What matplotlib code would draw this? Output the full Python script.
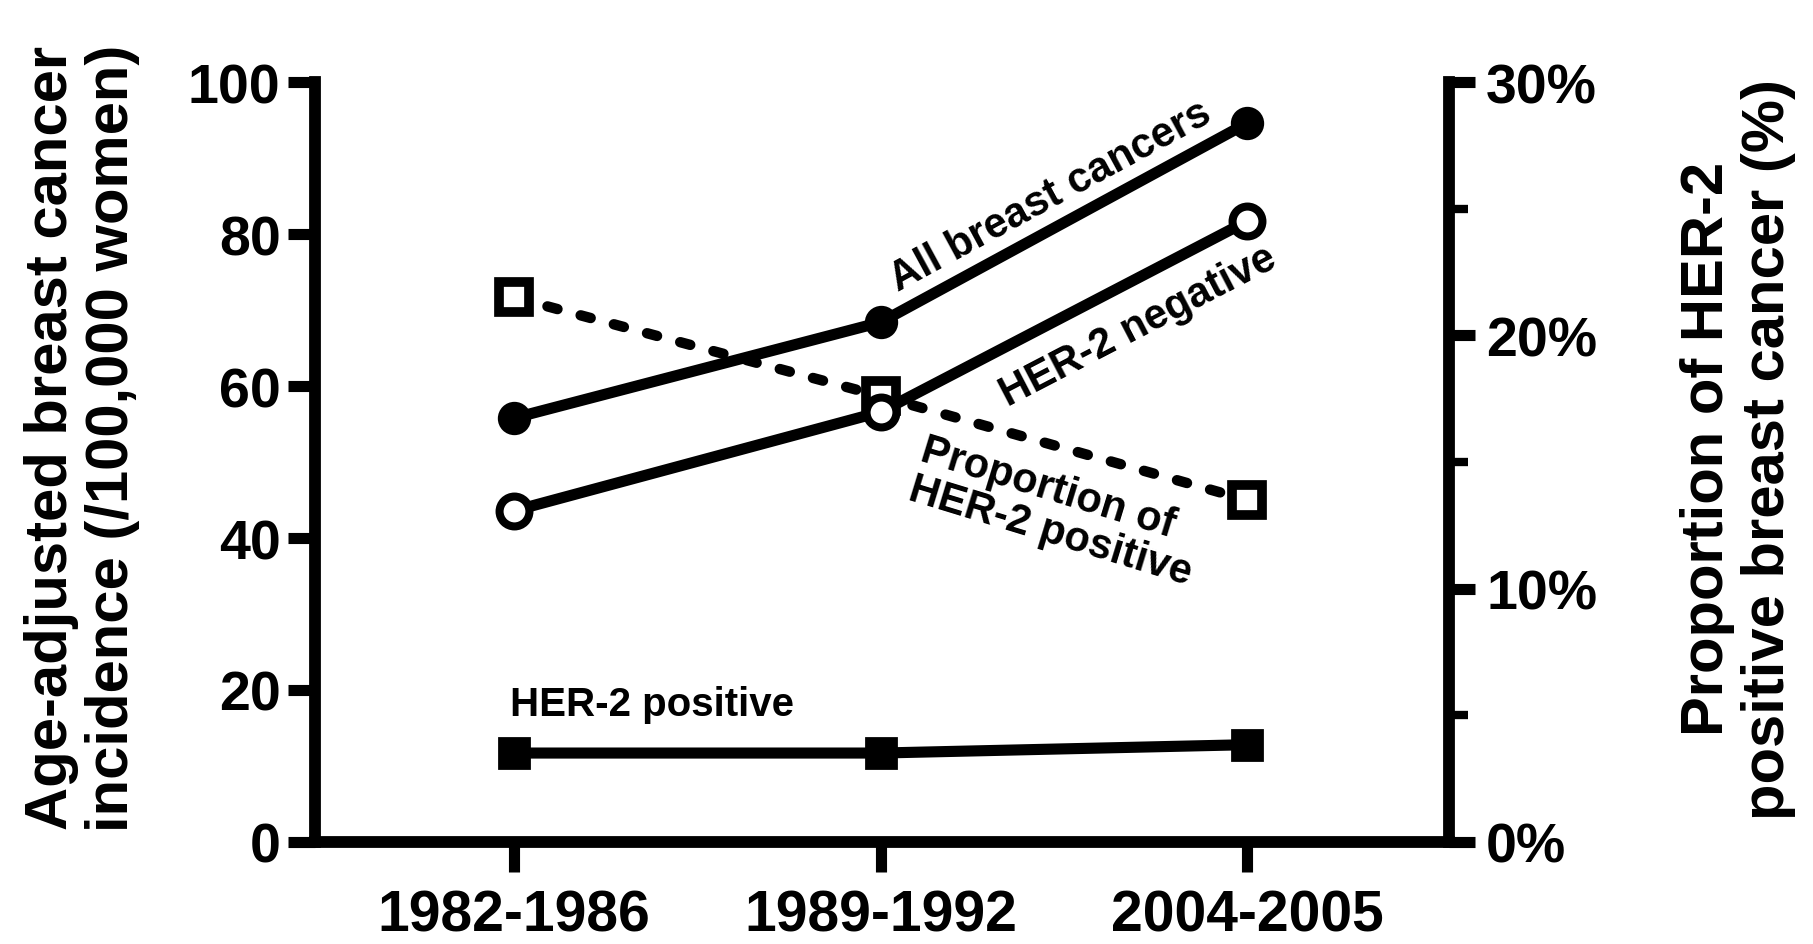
import matplotlib
matplotlib.use("Agg")
import matplotlib.pyplot as plt

# periods on the x axis
periods = ["1982-1986", "1989-1992", "2004-2005"]

# incidence per 100,000 women (left axis)
all_cancers = [55.8, 68.4, 94.6]
her2_negative = [43.6, 56.6, 81.7]
her2_positive = [11.7, 11.7, 12.8]

# proportion of HER-2 positive, % (right axis)
her2_pos_share = [21.5, 17.6, 13.5]

left_ticks = [0, 20, 40, 60, 80, 100]
right_ticks = [0, 10, 20, 30]
right_minor = [5, 15, 25]

plt.rcParams["font.family"] = ["Liberation Sans", "DejaVu Sans"]
plt.rcParams["font.weight"] = "bold"

fig = plt.figure(figsize=(18.13, 9.45), dpi=100)
ax = fig.add_axes([0.1735, 0.108, 0.6255, 0.804])
ax2 = ax.twinx()
# keep the incidence lines (and their open circles) above the proportion line
ax.set_zorder(ax2.get_zorder() + 1)
ax.patch.set_visible(False)

x = range(len(periods))
line_kw = dict(color="black", lw=8, solid_capstyle="butt")

ax.plot(x, all_cancers, marker="o", ms=22, mfc="black", mec="black", mew=2, **line_kw)
ax.plot(x, her2_negative, marker="o", ms=21.5, mfc="white", mec="black", mew=5.8, **line_kw)
ax.plot(x, her2_positive, marker="s", ms=22, mfc="black", mec="black", mew=2, **line_kw)

ax2.plot(x, her2_pos_share, color="black", lw=7.5, linestyle=(0, (1.0, 2.3)),
         dash_capstyle="round", marker="s", ms=21.5, mfc="white", mec="black", mew=7)

ax.set_xlim(-0.545, 2.55)
ax.set_ylim(0, 100)
ax2.set_ylim(0, 30)

ax.set_xticks(list(x))
ax.set_xticklabels(periods)
ax.set_yticks(left_ticks)
ax2.set_yticks(right_ticks)
ax2.set_yticklabels([f"{t}%" for t in right_ticks])
ax2.set_yticks(right_minor, minor=True)

for a in (ax, ax2):
    a.spines["top"].set_visible(False)
ax.spines["right"].set_visible(False)
ax2.spines["left"].set_visible(False)
ax2.spines["bottom"].set_visible(False)
for s in ("left", "bottom"):
    ax.spines[s].set_linewidth(8.5)
ax2.spines["right"].set_linewidth(8.5)

ax.tick_params(axis="y", length=19.5, width=8, labelsize=40, pad=5)
ax.tick_params(axis="x", length=21.5, width=8, labelsize=41, pad=12)
ax2.tick_params(axis="y", which="major", length=19, width=8, labelsize=40, pad=8)
ax2.tick_params(axis="y", which="minor", length=14, width=6)

# axis titles
ax.text(-0.205, 0.533, "Age-adjusted breast cancer\nincidence (/100,000 women)",
        transform=ax.transAxes, rotation=90, ha="center", va="center",
        fontsize=43, fontweight="bold", multialignment="center", linespacing=1.15)
ax2.text(1.255, 0.518, "Proportion of HER-2\npositive breast cancer (%)",
         transform=ax.transAxes, rotation=90, ha="center", va="center",
         fontsize=43, fontweight="bold", multialignment="center", linespacing=1.15)

# series labels
ax.text(1.465, 85.1, "All breast cancers", rotation=28.5, ha="center", va="center",
        fontsize=30, fontweight="bold", rotation_mode="anchor")
ax.text(1.703, 67.9, "HER-2 negative", rotation=27.5, ha="center", va="center",
        fontsize=30, fontweight="bold", rotation_mode="anchor")
ax.text(1.48, 43.5, "Proportion of\nHER-2 positive", rotation=-17, ha="center", va="center",
        fontsize=30, fontweight="bold", rotation_mode="anchor", multialignment="left",
        linespacing=1.05)
ax.text(-0.012, 18.2, "HER-2 positive", ha="left", va="center",
        fontsize=29, fontweight="bold")

fig.savefig("out.png", dpi=100)
